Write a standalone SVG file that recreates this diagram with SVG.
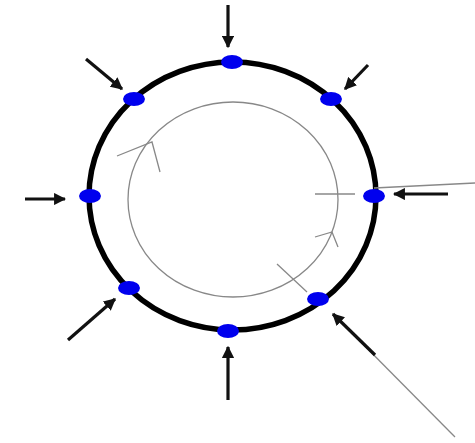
<svg xmlns="http://www.w3.org/2000/svg" width="475" height="443" viewBox="0 0 475 443">
<style>
.ring{fill:none;stroke:#000;stroke-width:5.5}
.inner{fill:none;stroke:#888;stroke-width:1.3}
.thin{fill:none;stroke:#888;stroke-width:1.3}
.force{stroke:#111;stroke-width:3.2;fill:none}
.dot{fill:#0000ee}
</style>
<defs>
<marker id="ah" viewBox="0 0 10 10" refX="9" refY="5" markerWidth="3.8" markerHeight="3.8" markerUnits="strokeWidth" orient="auto">
<path d="M0,0 L10,5 L0,10 z" fill="#111"/>
</marker>
</defs>
<rect width="475" height="443" fill="#fff"/>
<g id="ring"><ellipse class="ring" cx="232.5" cy="196" rx="143.5" ry="134"/></g>
<g id="flow">
<ellipse class="inner" cx="233" cy="199.5" rx="105" ry="97.5"/>
<polyline class="thin" points="117,156 152,142 160,172"/>
<polyline class="thin" points="315,237 332,232 338,247"/>
<line class="thin" x1="315" y1="194" x2="355" y2="194"/>
<line class="thin" x1="277" y1="264" x2="307" y2="292"/>
</g>
<g id="connectors">
<line class="thin" x1="374" y1="188" x2="475" y2="183"/>
<line class="thin" x1="455" y1="437" x2="345" y2="326"/>
<line class="force" x1="228" y1="5" x2="228" y2="47" marker-end="url(#ah)"/>
<line class="force" x1="86" y1="59" x2="122" y2="89" marker-end="url(#ah)"/>
<line class="force" x1="368" y1="65" x2="345" y2="89" marker-end="url(#ah)"/>
<line class="force" x1="25" y1="199" x2="65" y2="199" marker-end="url(#ah)"/>
<line class="force" x1="448" y1="194" x2="394" y2="194" marker-end="url(#ah)"/>
<line class="force" x1="68" y1="340" x2="115" y2="299" marker-end="url(#ah)"/>
<line class="force" x1="228" y1="400" x2="228" y2="347" marker-end="url(#ah)"/>
<line class="force" x1="375" y1="355" x2="333" y2="314" marker-end="url(#ah)"/>
</g>
<g id="n1"><ellipse class="dot" cx="232" cy="62" rx="11" ry="7"/></g>
<g id="n2"><ellipse class="dot" cx="134" cy="99" rx="11" ry="7"/></g>
<g id="n3"><ellipse class="dot" cx="331" cy="99" rx="11" ry="7"/></g>
<g id="n4"><ellipse class="dot" cx="90" cy="196" rx="11" ry="7"/></g>
<g id="n5"><ellipse class="dot" cx="374" cy="196" rx="11" ry="7"/></g>
<g id="n6"><ellipse class="dot" cx="129" cy="288" rx="11" ry="7"/></g>
<g id="n7"><ellipse class="dot" cx="228" cy="331" rx="11" ry="7"/></g>
<g id="n8"><ellipse class="dot" cx="318" cy="299" rx="11" ry="7"/></g>
</svg>
